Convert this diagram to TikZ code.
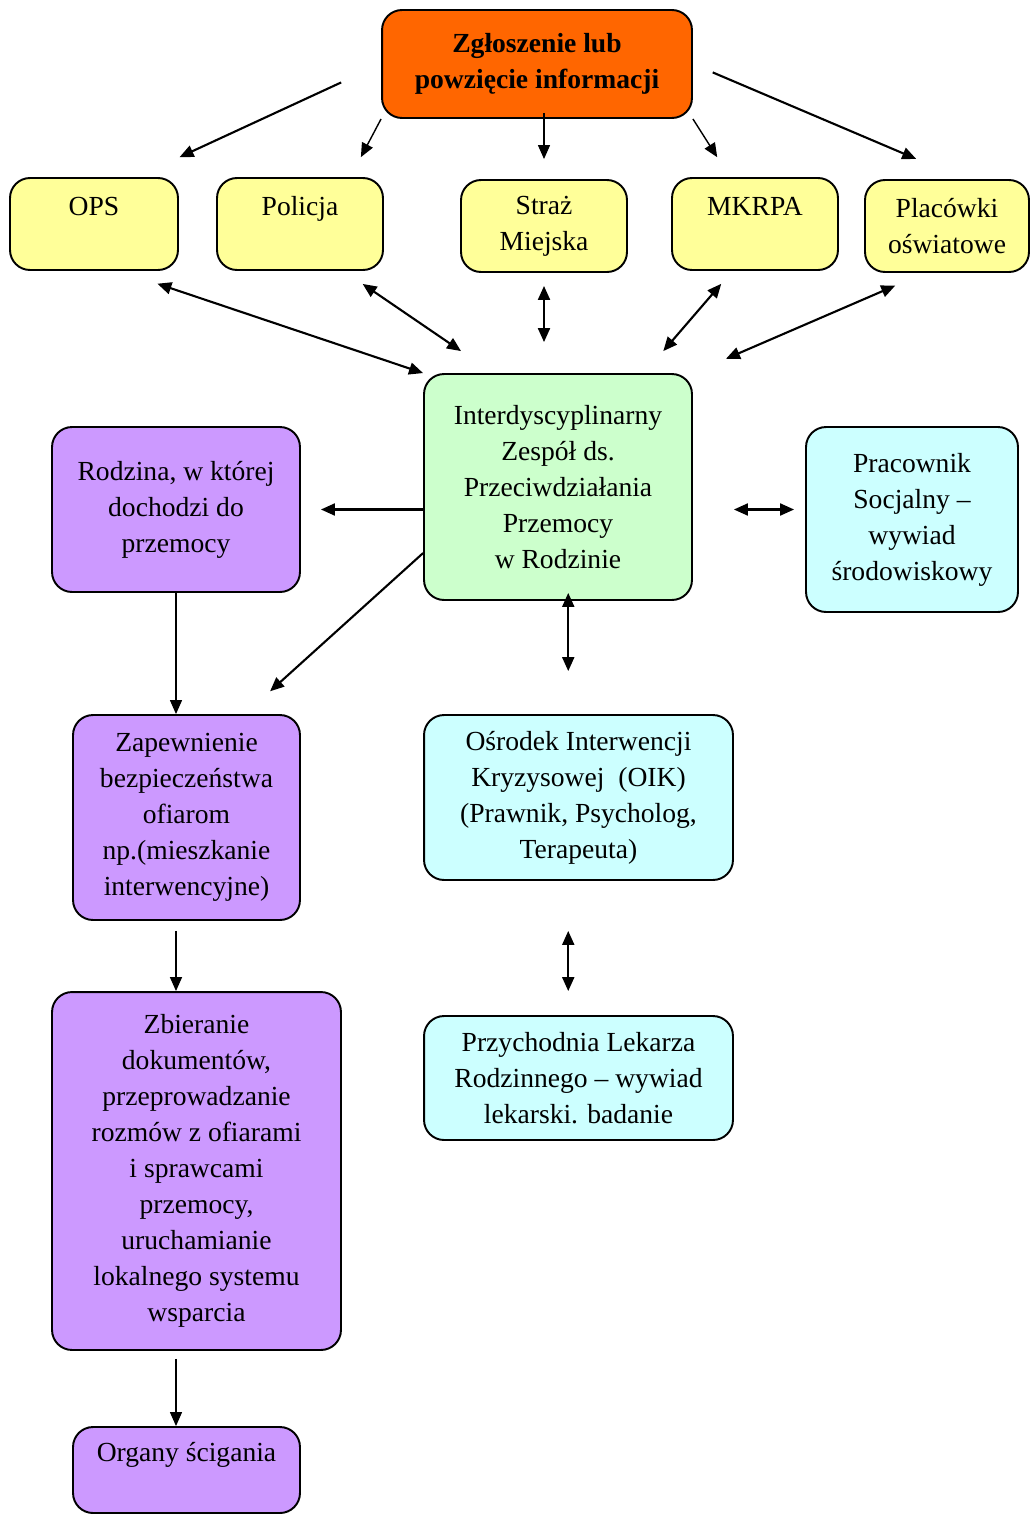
\documentclass[tikz,border=0pt]{standalone}
\usepackage{fontspec}
\setmainfont{Liberation Serif}
\usetikzlibrary{arrows.meta,calc}
\definecolor{zglorange}{HTML}{FF6600}
\definecolor{instyellow}{HTML}{FFFF99}
\definecolor{izgreen}{HTML}{CCFFCC}
\definecolor{famviolet}{HTML}{CC99FF}
\definecolor{helpcyan}{HTML}{CCFFFF}
\begin{document}
\begin{tikzpicture}[x=0.02cm, y=-0.02cm,
	box/.style={draw, line width=1.1pt, rounded corners=4mm, align=center, inner sep=2pt,
		font={\fontsize{15.7}{20.5}\selectfont}},
	inst/.style={box, fill=instyellow, minimum width=3.32cm, minimum height=1.84cm},
	fam/.style={box, fill=famviolet},
	help/.style={box, fill=helpcyan},
	arr/.style={line width=1.2pt, -{Triangle[length=2.8mm,width=2.4mm]}},
	arrthin/.style={line width=0.8pt, -{Triangle[length=2.8mm,width=2.4mm]}},
	arrtwo/.style={line width=1.2pt, {Triangle[length=2.8mm,width=2.4mm]}-{Triangle[length=2.8mm,width=2.4mm]}}]
		\useasboundingbox (0,0) rectangle (1030,1515);
		\node[box, fill=zglorange, minimum width=6.2cm, minimum height=2.16cm, font={\fontsize{15.7}{20.5}\selectfont\bfseries}] (zgl) at (537,64) {Zgłoszenie lub\\powzięcie informacji};
		\node[inst, minimum width=3.36cm] (ops) at (94,224) {OPS\\\mbox{}};
		\node[inst] (pol) at (300,224) {Policja\\\mbox{}};
		\node[inst] (straz) at (544,226) {Straż\\Miejska};
		\node[inst] (mkrpa) at (755,224) {MKRPA\\\mbox{}};
		\node[inst, minimum width=3.28cm] (plac) at (947,226) {Placówki\\oświatowe};
		\node[box, fill=izgreen, minimum width=5.36cm, minimum height=4.52cm] (iz) at (558,487) {Interdyscyplinarny\\Zespół ds.\\Przeciwdziałania\\Przemocy\\w Rodzinie};
		\node[fam, minimum width=4.96cm, minimum height=3.3cm] (rodz) at (176,509.5) {Rodzina, w której\\dochodzi do\\przemocy};
		\node[help, minimum width=4.24cm, minimum height=3.7cm] (prac) at (912,519.5) {Pracownik\\Socjalny --\\wywiad\\środowiskowy};
		\node[fam, minimum width=4.54cm, minimum height=4.1cm] (zap) at (186.5,817.5) {Zapewnienie\\bezpieczeństwa\\ofiarom\\np.(mieszkanie\\interwencyjne)};
		\node[help, minimum width=6.18cm, minimum height=3.3cm] (oik) at (578.5,797.5) {Ośrodek Interwencji\\Kryzysowej\ \ (OIK)\\(Prawnik, Psycholog,\\Terapeuta)};
		\node[fam, minimum width=5.78cm, minimum height=7.16cm] (zbier) at (196.5,1171) {Zbieranie\\dokumentów,\\przeprowadzanie\\rozmów z ofiarami\\i sprawcami\\przemocy,\\uruchamianie\\lokalnego systemu\\wsparcia};
		\node[help, minimum width=6.18cm, minimum height=2.48cm] (przych) at (578.5,1078) {Przychodnia Lekarza\\Rodzinnego -- wywiad\\lekarski. badanie};
		\node[fam, minimum width=4.54cm, minimum height=1.72cm] (org) at (186.5,1470) {Organy ścigania\\\mbox{}};
		\draw[arr, shorten <=8.8mm, shorten >=9.5mm] (zgl.west) -- ($(ops.north)!0.5!(ops.north east)$);
		\draw[arrthin, shorten >=4.5mm] (zgl.south west) -- ($(pol.north)!0.6!(pol.north east)$);
		\draw[arrthin, shorten <=-1.2mm, shorten >=4mm] (zgl.south -| straz.north) -- (straz.north);
		\draw[arrthin, shorten >=4.7mm] (zgl.south east) -- ($(mkrpa.north west)!0.7!(mkrpa.north)$);
		\draw[arr, shorten <=4.3mm, shorten >=10.3mm] (zgl.east) -- ($(plac.north)!0.2!(plac.north east)$);
		\draw[arrtwo, shorten <=8mm] ($(ops.south)!0.3!(ops.south east)$) -- (iz.north west);
		\draw[arrtwo, shorten <=4.6mm, shorten >=7.8mm] ($(pol.south)!0.52!(pol.south east)$) -- ($(iz.north west)!0.26!(iz.north east)$);
		\draw[arrtwo, shorten <=2.6mm, shorten >=6.2mm] (straz.south) -- (straz.south |- iz.north);
		\draw[arrtwo, shorten <=3.4mm, shorten >=5.8mm] ($(mkrpa.south west)!0.73!(mkrpa.south)$) -- ($(iz.north west)!0.82!(iz.north east)$);
		\draw[arrtwo, shorten <=6.4mm, shorten >=7.2mm] ($(plac.south west)!0.73!(plac.south)$) -- (iz.north east);
		\draw[arr, shorten >=4mm] (iz.west |- rodz.east) -- (rodz.east);
		\draw[arrtwo, shorten <=8.2mm, shorten >=2.2mm] (iz.east |- rodz.east) -- (prac.west |- rodz.east);
		\draw[arr, shorten >=6.8mm] ($(iz.west)!0.58!(iz.south west)$) -- ($(zap.north)!0.51!(zap.north east)$);
		\coordinate (mid) at ($(iz.south)!0.5!(oik.north)$);
		\draw[arrtwo, shorten <=-1.6mm, shorten >=8.6mm] (mid |- iz.south) -- (mid |- oik.north);
		\draw[arrtwo, shorten <=10mm, shorten >=4.8mm] (mid |- oik.south) -- (mid |- przych.north);
		\draw[arrthin] (rodz.south) -- (rodz.south |- zap.north);
		\draw[arrthin, shorten <=2mm] (zap.south -| rodz.south) -- (zbier.north -| rodz.south);
		\draw[arrthin, shorten <=1.6mm] (zbier.south -| rodz.south) -- (org.north -| rodz.south);
	\end{tikzpicture}
\end{document}
